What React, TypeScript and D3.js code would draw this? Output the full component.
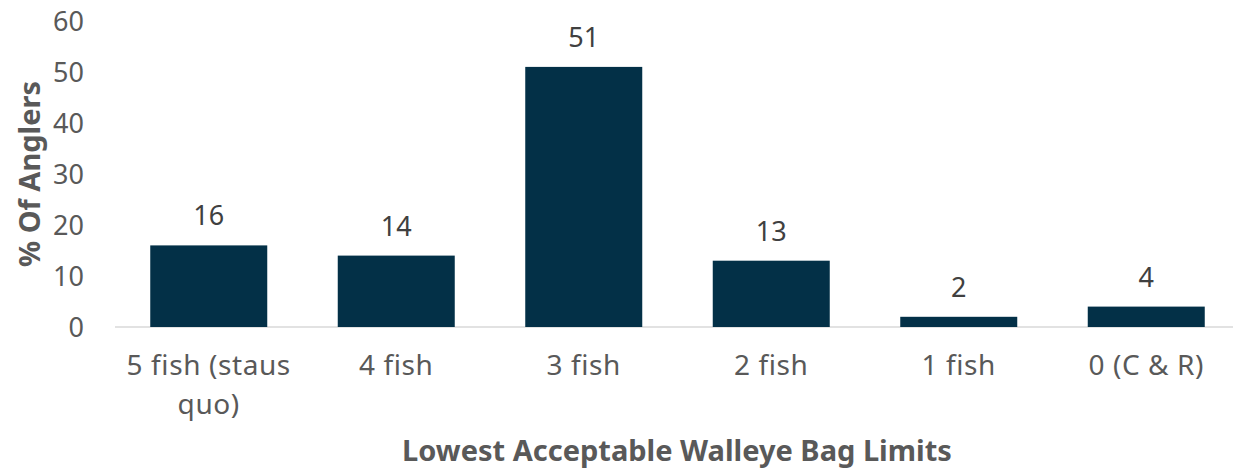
import React from "react";
import * as d3 from "d3";

const categories: string[][] = [
  ["5 fish (staus", "quo)"],
  ["4 fish"],
  ["3 fish"],
  ["2 fish"],
  ["1 fish"],
  ["0 (C & R)"],
];
const values: number[] = [16, 14, 51, 13, 2, 4];
const yTicks: number[] = [0, 10, 20, 30, 40, 50, 60];
const xTitle = "Lowest Acceptable Walleye Bag Limits";
const yTitle = "% Of Anglers";

const W = 1233;
const H = 470;
const FONT = "'Noto Sans', 'Open Sans', sans-serif";

export default function App() {
  const keys = categories.map((_, i) => String(i));
  const x = d3.scaleBand<string>().domain(keys).range([115, 1240]).paddingInner(0.376).paddingOuter(0.188);
  const y = d3.scaleLinear().domain([0, 60]).range([327, 21]);
  return (
    <svg width={W} height={H} style={{ position: "absolute", left: 0, top: 0, background: "#fff" }}>
      <line x1={115} x2={1233} y1={y(0)} y2={y(0)} stroke="#d9d9d9" strokeWidth={1.5} />
      {yTicks.map((t) => (
        <text key={t} x={84} y={y(t)} dy="0.36em" textAnchor="end" fill="#595959" fontSize={27} fontFamily={FONT}>
          {t}
        </text>
      ))}
      {values.map((v, i) => (
        <g key={i}>
          <rect x={x(String(i))} y={y(v)} width={x.bandwidth()} height={y(0) - y(v)} fill="#033047" />
          <text x={(x(String(i)) as number) + x.bandwidth() / 2} y={y(v) - 20} textAnchor="middle" fill="#404040" fontSize={27} fontFamily={FONT}>
            {v}
          </text>
        </g>
      ))}
      {categories.map((lines, i) => (
        <text key={i} textAnchor="middle" fill="#595959" fontSize={28} letterSpacing={0.6} fontFamily={FONT}>
          {lines.map((l, j) => (
            <tspan key={j} x={(x(String(i)) as number) + x.bandwidth() / 2} y={375 + j * 39}>
              {l}
            </tspan>
          ))}
        </text>
      ))}
      <text x={677} y={461} textAnchor="middle" fill="#595959" fontSize={29} fontWeight="bold" fontFamily={FONT}>
        {xTitle}
      </text>
      <text transform={`translate(40,174) rotate(-90)`} textAnchor="middle" fill="#595959" fontSize={29} fontWeight="bold" fontFamily={FONT}>
        {yTitle}
      </text>
    </svg>
  );
}
